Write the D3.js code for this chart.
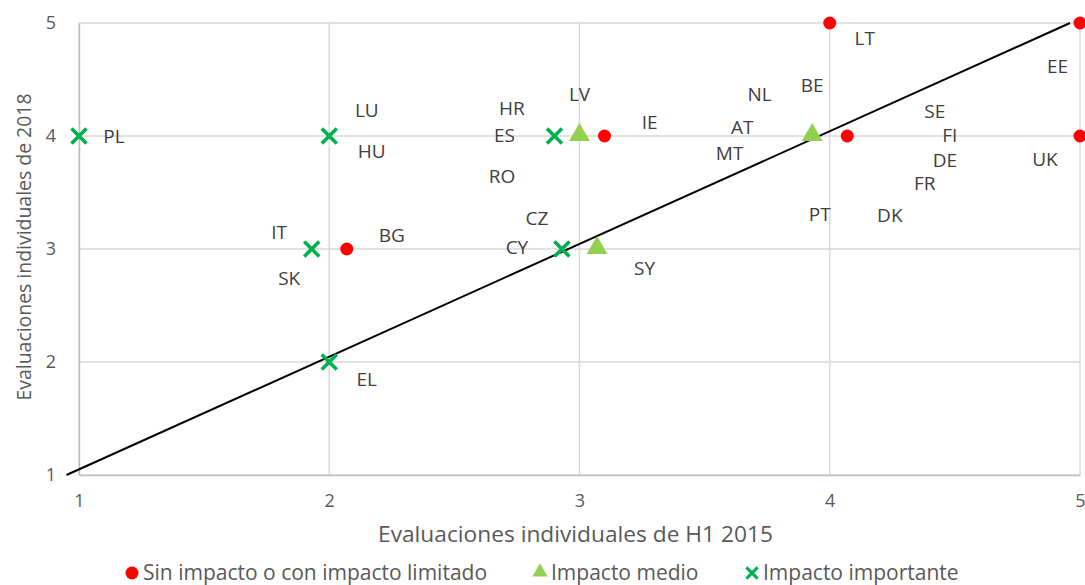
<!DOCTYPE html>
<html><head><meta charset="utf-8">
<script src="https://cdn.jsdelivr.net/npm/d3@7"></script>
<style>body{margin:0;background:#fff}svg{display:block}text{font-family:"Open Sans",sans-serif}</style>
</head><body><svg id="c" width="1085" height="585"></svg>
<script>
// Data (values in chart units)
const xTicks = [1, 2, 3, 4, 5];
const yTicks = [1, 2, 3, 4, 5];
const seriesNames = ["Sin impacto o con impacto limitado", "Impacto medio", "Impacto importante"];
const sinImpacto = [[4, 5], [5, 5], [2.07, 3], [3.1, 4], [4.07, 4], [5, 4]];
const impactoMedio = [[3, 4], [3.93, 4], [3.07, 3]];
const impactoImportante = [[1, 4], [2, 4], [2.9, 4], [1.93, 3], [2.93, 3], [2, 2]];
const refLine = [[0.95, 1.0], [4.96, 5.0]];
const labelNames = ["PL","LU","HU","IT","SK","BG","EL","HR","LV","ES","IE","NL","AT","MT","RO","CZ","CY","SY","LT","EE","BE","SE","FI","DE","FR","UK","PT","DK"];
const labelX = [1.14,2.15,2.17,1.80,1.84,2.25,2.15,2.73,3.0,2.70,3.28,3.72,3.65,3.60,2.69,2.83,2.75,3.26,4.14,4.91,3.93,4.42,4.48,4.46,4.38,4.86,3.96,4.24];
const labelY = [4.0,4.23,3.87,3.15,2.74,3.12,1.85,4.25,4.37,4.01,4.12,4.37,4.08,3.85,3.65,3.27,3.02,2.83,4.87,4.62,4.45,4.22,4.01,3.79,3.58,3.80,3.31,3.30];

const svg = d3.select("#c");
const m = {l: 79, r: 1080, t: 23, b: 475};
const x = d3.scaleLinear().domain([1, 5]).range([m.l, m.r]);
const y = d3.scaleLinear().domain([1, 5]).range([m.b, m.t]);
const grid = "#D9D9D9", txt = "#595959";

// grid
svg.append("g").selectAll("line.v").data(xTicks).join("line")
  .attr("x1", d => x(d)).attr("x2", d => x(d)).attr("y1", m.t).attr("y2", m.b)
  .attr("stroke", grid).attr("stroke-width", 1.5);
svg.append("g").selectAll("line.h").data(yTicks).join("line")
  .attr("y1", d => y(d)).attr("y2", d => y(d)).attr("x1", m.l).attr("x2", m.r)
  .attr("stroke", grid).attr("stroke-width", 1.5);

// axes (tick labels)
const xa = svg.append("g").attr("transform", `translate(0,${m.b})`)
  .call(d3.axisBottom(x).tickValues(xTicks).tickSize(0).tickPadding(19).tickFormat(d3.format("d")));
xa.select(".domain").attr("stroke", "#BFBFBF").attr("stroke-width", 1.5);
xa.selectAll("text").attr("fill", txt).attr("font-size", 18).attr("font-family", "Open Sans");
const ya = svg.append("g").attr("transform", `translate(${m.l},0)`)
  .call(d3.axisLeft(y).tickValues(yTicks).tickSize(0).tickPadding(23).tickFormat(d3.format("d")));
ya.select(".domain").attr("stroke", "#BFBFBF").attr("stroke-width", 1.5);
ya.selectAll("text").attr("fill", txt).attr("font-size", 18).attr("font-family", "Open Sans");

// axis titles
svg.append("text").attr("x", 575.5).attr("y", 542).attr("text-anchor", "middle")
  .attr("fill", txt).attr("font-size", 21).attr("textLength", 395).attr("lengthAdjust", "spacingAndGlyphs")
  .text("Evaluaciones individuales de H1 2015");
svg.append("text").attr("transform", "translate(31,247) rotate(-90)").attr("text-anchor", "middle")
  .attr("fill", txt).attr("font-size", 20).attr("textLength", 307).attr("lengthAdjust", "spacingAndGlyphs")
  .text("Evaluaciones individuales de 2018");

// reference line
svg.append("path").datum(refLine)
  .attr("d", d3.line().x(d => x(d[0])).y(d => y(d[1])))
  .attr("stroke", "#000").attr("stroke-width", 2).attr("fill", "none");

// labels
svg.append("g").selectAll("text").data(labelNames).join("text")
  .attr("x", (d, i) => x(labelX[i])).attr("y", (d, i) => y(labelY[i]))
  .attr("text-anchor", "middle").attr("dominant-baseline", "central")
  .attr("fill", "#404040").attr("font-size", 19).text(d => d);

// markers
const tri = d3.symbol().type(d3.symbolTriangle).size(190);
const cross = "M-7.5,-7.5L7.5,7.5M-7.5,7.5L7.5,-7.5";
svg.append("g").selectAll("circle").data(sinImpacto).join("circle")
  .attr("cx", d => x(d[0])).attr("cy", d => y(d[1])).attr("r", 6.5).attr("fill", "#FF0000");
svg.append("g").selectAll("path").data(impactoMedio).join("path")
  .attr("transform", d => `translate(${x(d[0])},${y(d[1]) - 1})`).attr("d", tri).attr("fill", "#92D050");
svg.append("g").selectAll("path").data(impactoImportante).join("path")
  .attr("transform", d => `translate(${x(d[0])},${y(d[1])})`).attr("d", cross)
  .attr("stroke", "#00B050").attr("stroke-width", 3.6).attr("fill", "none");

// legend
const lg = svg.append("g");
const lx = [132, 540, 752];
const ly = 572;
lg.append("circle").attr("cx", lx[0]).attr("cy", ly + 1).attr("r", 6.5).attr("fill", "#FF0000");
lg.append("path").attr("transform", `translate(${lx[1]},${ly})`).attr("d", d3.symbol().type(d3.symbolTriangle).size(100)).attr("fill", "#92D050");
lg.append("path").attr("transform", `translate(${lx[2]},${ly + 1}) scale(0.75)`).attr("d", cross).attr("stroke", "#00B050").attr("stroke-width", 4).attr("fill", "none");
lg.selectAll("text").data(seriesNames).join("text")
  .attr("x", (d, i) => lx[i] + 11).attr("y", ly).attr("dominant-baseline", "central")
  .attr("fill", txt).attr("font-size", 21).text(d => d);
</script></body></html>
